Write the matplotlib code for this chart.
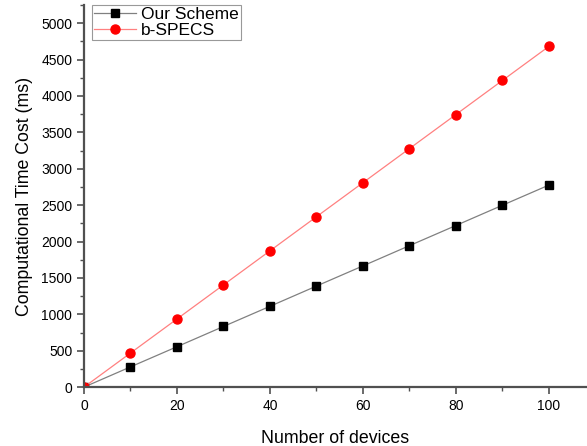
import matplotlib
matplotlib.use('Agg')
import matplotlib.pyplot as plt
from matplotlib.ticker import MultipleLocator

# data
devices = [0, 10, 20, 30, 40, 50, 60, 70, 80, 90, 100]
our_scheme = [0, 278, 555, 833, 1110, 1388, 1665, 1943, 2220, 2498, 2775]
b_specs = [0, 468, 936, 1404, 1872, 2340, 2808, 3276, 3744, 4212, 4680]

plt.rcParams['font.family'] = ['Liberation Sans', 'DejaVu Sans']

fig = plt.figure(figsize=(5.87, 4.46), dpi=100)
ax = fig.add_axes([0.1431, 0.132, 0.8569, 0.857])

ax.plot(devices, our_scheme, color='#808080', lw=0.9, marker='s', ms=5.2,
        mfc='black', mec='black', label='Our Scheme')
ax.plot(devices, b_specs, color='#ff8080', lw=0.9, marker='o', ms=6.5,
        mfc='red', mec='red', label='b-SPECS')

ax.set_xlim(0, 108.2)
ax.set_ylim(0, 5250)
ax.xaxis.set_major_locator(MultipleLocator(20))
ax.xaxis.set_minor_locator(MultipleLocator(10))
ax.yaxis.set_major_locator(MultipleLocator(500))
ax.yaxis.set_minor_locator(MultipleLocator(250))

for s in ['top', 'right']:
    ax.spines[s].set_visible(False)
for s in ['left', 'bottom']:
    ax.spines[s].set_color('#505050')
    ax.spines[s].set_linewidth(1.6)

ax.tick_params(which='major', direction='out', length=5, width=1.2,
               color='#505050', labelsize=10)
ax.tick_params(which='minor', direction='out', length=3, width=1.0,
               color='#505050')

ax.set_xlabel('Number of devices', fontsize=12.8, labelpad=12)
ax.set_ylabel('Computational Time Cost (ms)', fontsize=12.8, labelpad=6)

leg = ax.legend(loc='upper left', bbox_to_anchor=(0.016, 1.0), fontsize=12.5,
                frameon=True, fancybox=False, borderpad=0.12,
                handlelength=2.4, handletextpad=0.3, labelspacing=0.05,
                borderaxespad=0.0)
leg.get_frame().set_edgecolor('#808080')
leg.get_frame().set_linewidth(0.8)

fig.savefig('out.png', dpi=100)
